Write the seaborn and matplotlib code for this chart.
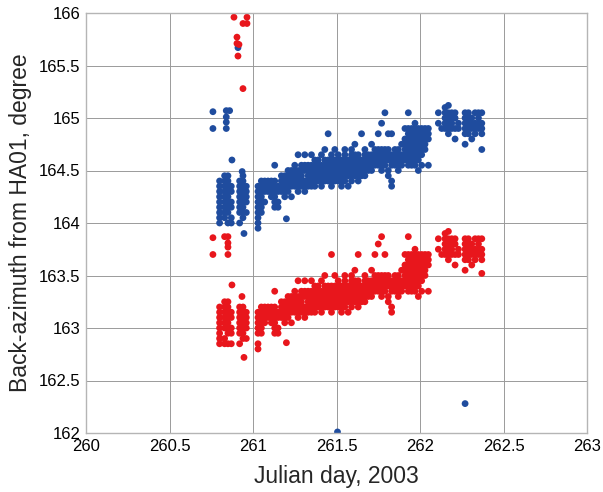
import matplotlib
matplotlib.use("Agg")
import matplotlib.pyplot as plt
import seaborn as sns
import pandas as pd

# ---- data (Julian day, back-azimuth in degrees) ----
blue_cols = [
    (260.76, [165.06, 164.90]),
    (260.84, [165.07, 165.01, 164.96, 164.90]),
    (260.86, [165.07]),
    (260.874, [164.60]),
    (260.91, [165.67]),
    (260.935, [164.49]),
    (260.946, [163.90]),
    (261.506, [162.01]),
    (262.27, [162.28]),
    (260.80, [164.0, 164.05, 164.1, 164.15, 164.2, 164.25, 164.3, 164.35, 164.4]),
    (260.83, [164.05, 164.1, 164.15, 164.2, 164.25, 164.3, 164.35, 164.4, 164.45]),
    (260.85, [164.0, 164.1, 164.15, 164.2, 164.25, 164.3, 164.35, 164.4, 164.45]),
    (260.87, [164.0, 164.05, 164.15, 164.2, 164.3, 164.35]),
    (260.92, [164.0, 164.1, 164.15, 164.2, 164.25, 164.3, 164.35, 164.4]),
    (260.94, [164.05, 164.1, 164.15, 164.2, 164.25, 164.3, 164.35, 164.4, 164.45]),
    (260.96, [164.1, 164.2, 164.25, 164.3, 164.35]),
    (261.03, [163.95, 164.0, 164.05, 164.1, 164.15, 164.2, 164.25, 164.3, 164.35]),
    (261.05, [164.1, 164.15, 164.2, 164.25, 164.3, 164.35, 164.4]),
    (261.07, [164.2, 164.3, 164.35, 164.4]),
    (261.09, [164.3, 164.35, 164.4]),
    (261.11, [164.25, 164.3, 164.35, 164.4]),
    (261.13, [164.15, 164.2, 164.25, 164.3, 164.35, 164.4, 164.55]),
    (261.15, [164.15, 164.2, 164.3, 164.35]),
    (261.20, [164.04]),
    (261.17, [164.30, 164.35, 164.40, 164.45]),
    (261.19, [164.25, 164.30, 164.35, 164.40, 164.45]),
    (261.21, [164.30, 164.35, 164.40, 164.45, 164.50]),
    (261.23, [164.25, 164.35, 164.40, 164.45, 164.50]),
    (261.25, [164.35, 164.40, 164.45, 164.50, 164.55]),
    (261.27, [164.30, 164.35, 164.40, 164.45, 164.50, 164.65]),
    (261.29, [164.35, 164.40, 164.45, 164.50, 164.55]),
    (261.31, [164.30, 164.35, 164.40, 164.50, 164.55, 164.65]),
    (261.33, [164.35, 164.40, 164.45, 164.50, 164.55]),
    (261.35, [164.35, 164.40, 164.45, 164.50, 164.55, 164.65]),
    (261.37, [164.35, 164.40, 164.45, 164.50, 164.55, 164.60]),
    (261.39, [164.40, 164.45, 164.50, 164.55, 164.60]),
    (261.41, [164.35, 164.40, 164.45, 164.50, 164.55, 164.65]),
    (261.43, [164.40, 164.45, 164.50, 164.55, 164.60, 164.70]),
    (261.45, [164.40, 164.45, 164.50, 164.55, 164.60, 164.85]),
    (261.47, [164.35, 164.40, 164.45, 164.50, 164.55, 164.60, 164.65]),
    (261.49, [164.40, 164.45, 164.50, 164.55, 164.60, 164.70]),
    (261.51, [164.40, 164.45, 164.50, 164.55, 164.60, 164.65]),
    (261.53, [164.35, 164.40, 164.45, 164.50, 164.55, 164.60]),
    (261.55, [164.40, 164.45, 164.50, 164.55, 164.60, 164.65, 164.70]),
    (261.57, [164.35, 164.45, 164.50, 164.55, 164.60]),
    (261.59, [164.40, 164.45, 164.50, 164.55, 164.60, 164.65, 164.70]),
    (261.61, [164.45, 164.50, 164.55, 164.60, 164.65, 164.75]),
    (261.63, [164.40, 164.45, 164.50, 164.55, 164.60, 164.65]),
    (261.65, [164.45, 164.50, 164.55, 164.60, 164.85]),
    (261.67, [164.45, 164.50, 164.55, 164.60, 164.65, 164.70]),
    (261.69, [164.50, 164.55, 164.60, 164.65]),
    (261.71, [164.50, 164.55, 164.60, 164.65, 164.75]),
    (261.73, [164.55, 164.60, 164.65, 164.70]),
    (261.75, [164.55, 164.60, 164.65, 164.70, 164.85]),
    (261.77, [164.50, 164.55, 164.60, 164.65, 164.70, 164.95]),
    (261.79, [164.55, 164.60, 164.65, 164.70, 165.05]),
    (261.81, [164.45, 164.50, 164.60, 164.65, 164.70, 164.85]),
    (261.83, [164.35, 164.40, 164.55, 164.60, 164.65, 164.85]),
    (261.85, [164.55, 164.60, 164.65, 164.70]),
    (261.87, [164.50, 164.55, 164.60, 164.65, 164.70]),
    (261.89, [164.55, 164.60, 164.65, 164.75]),
    (261.91, [164.60, 164.65, 164.70, 164.75, 164.80, 164.90]),
    (261.93, [164.55, 164.60, 164.65, 164.70, 164.75, 164.80, 164.85, 164.90, 165.05]),
    (261.95, [164.55, 164.60, 164.65, 164.70, 164.75, 164.80, 164.85, 164.90]),
    (261.97, [164.55, 164.60, 164.65, 164.70, 164.75, 164.80, 164.85, 164.90, 164.95]),
    (261.99, [164.50, 164.60, 164.65, 164.70, 164.75, 164.80, 164.85, 164.90]),
    (262.01, [164.55, 164.65, 164.70, 164.75, 164.80, 164.85, 164.90]),
    (262.03, [164.70, 164.75, 164.80, 164.85, 164.90]),
    (262.05, [164.55, 164.80, 164.85, 164.90]),
    (262.11, [165.05, 164.95]),
    (262.13, [164.90]),
    (262.15, [164.90, 164.95, 165.00, 165.05, 165.10]),
    (262.17, [164.85, 164.90, 164.95, 165.00, 165.05, 165.12]),
    (262.19, [164.90, 164.95, 165.00, 165.05]),
    (262.21, [164.80, 164.90, 165.00, 165.05]),
    (262.23, [164.90, 164.95]),
    (262.27, [164.75, 164.85, 164.90, 164.95, 165.00, 165.05]),
    (262.29, [164.85, 164.90, 164.95, 165.00, 165.05]),
    (262.31, [164.80, 164.90, 164.95, 165.00]),
    (262.33, [164.85, 164.90, 164.95, 165.05]),
    (262.35, [164.90, 164.95, 165.00, 165.05]),
    (262.37, [164.70, 164.85, 164.90, 164.95, 165.05]),
]

red_cols = [
    (260.886, [165.96]),
    (260.964, [165.96, 165.90]),
    (260.94, [165.90, 165.28]),
    (260.904, [165.77, 165.71]),
    (260.916, [165.70]),
    (260.91, [165.59]),
    (260.76, [163.86, 163.70]),
    (260.83, [163.87]),
    (260.85, [163.87, 163.81, 163.77, 163.70]),
    (260.874, [163.41]),
    (260.934, [163.30]),
    (260.946, [162.72]),
    (260.80, [162.85, 162.90, 162.95, 163.00, 163.05, 163.10, 163.15, 163.20]),
    (260.83, [162.85, 162.90, 163.00, 163.05, 163.10, 163.15, 163.20, 163.25]),
    (260.85, [162.85, 162.95, 163.00, 163.05, 163.10, 163.15, 163.20, 163.25]),
    (260.87, [162.85, 162.95, 163.00, 163.10, 163.15]),
    (260.92, [162.85, 162.95, 163.00, 163.05, 163.10, 163.15, 163.20]),
    (260.94, [162.90, 162.95, 163.00, 163.05, 163.10, 163.15, 163.20]),
    (260.96, [162.90, 163.00, 163.05, 163.10, 163.15]),
    (261.03, [162.80, 162.85, 162.95, 163.00, 163.05, 163.10, 163.15]),
    (261.05, [162.95, 163.00, 163.05, 163.10, 163.15, 163.20]),
    (261.07, [163.05, 163.10, 163.15, 163.20]),
    (261.09, [163.10, 163.15, 163.20]),
    (261.11, [163.05, 163.10, 163.15, 163.20]),
    (261.13, [162.95, 163.00, 163.05, 163.10, 163.15, 163.20, 163.35]),
    (261.15, [162.95, 163.00, 163.10, 163.15]),
    (261.20, [162.86]),
    (261.17, [163.10, 163.15, 163.20, 163.25]),
    (261.19, [163.05, 163.10, 163.15, 163.20, 163.25]),
    (261.21, [163.10, 163.15, 163.20, 163.25, 163.30]),
    (261.23, [163.05, 163.15, 163.20, 163.25, 163.30]),
    (261.25, [163.15, 163.20, 163.25, 163.30, 163.35]),
    (261.27, [163.10, 163.15, 163.20, 163.25, 163.30, 163.45]),
    (261.29, [163.15, 163.20, 163.25, 163.30, 163.35]),
    (261.31, [163.10, 163.15, 163.20, 163.30, 163.35, 163.45]),
    (261.33, [163.15, 163.20, 163.25, 163.30, 163.35]),
    (261.35, [163.15, 163.20, 163.25, 163.30, 163.35, 163.45]),
    (261.37, [163.15, 163.20, 163.25, 163.30, 163.35, 163.40]),
    (261.39, [163.20, 163.25, 163.30, 163.35, 163.40]),
    (261.41, [163.15, 163.20, 163.25, 163.30, 163.35, 163.45]),
    (261.43, [163.20, 163.25, 163.30, 163.35, 163.40, 163.50]),
    (261.45, [163.20, 163.25, 163.30, 163.35, 163.40]),
    (261.47, [163.15, 163.20, 163.25, 163.30, 163.35, 163.40, 163.70]),
    (261.49, [163.20, 163.25, 163.30, 163.35, 163.40, 163.50]),
    (261.51, [163.20, 163.25, 163.30, 163.35, 163.40, 163.45]),
    (261.53, [163.15, 163.20, 163.25, 163.30, 163.35, 163.40]),
    (261.55, [163.20, 163.25, 163.30, 163.35, 163.40, 163.45, 163.50]),
    (261.57, [163.15, 163.25, 163.30, 163.35, 163.40]),
    (261.59, [163.20, 163.25, 163.30, 163.35, 163.40, 163.45, 163.50]),
    (261.61, [163.25, 163.30, 163.35, 163.40, 163.45, 163.55]),
    (261.63, [163.20, 163.25, 163.30, 163.35, 163.40, 163.45, 163.70]),
    (261.65, [163.25, 163.30, 163.35, 163.40]),
    (261.67, [163.25, 163.30, 163.35, 163.40, 163.45, 163.50]),
    (261.69, [163.30, 163.35, 163.40, 163.45]),
    (261.71, [163.30, 163.35, 163.40, 163.45, 163.55]),
    (261.73, [163.35, 163.40, 163.45, 163.50, 163.70]),
    (261.75, [163.35, 163.40, 163.45, 163.50, 163.80]),
    (261.77, [163.30, 163.35, 163.40, 163.45, 163.50, 163.87]),
    (261.79, [163.35, 163.40, 163.45, 163.50, 163.70]),
    (261.81, [163.25, 163.30, 163.40, 163.45, 163.50]),
    (261.83, [163.15, 163.20, 163.35, 163.40, 163.45]),
    (261.85, [163.35, 163.40, 163.45, 163.50]),
    (261.87, [163.30, 163.35, 163.40, 163.45, 163.50]),
    (261.89, [163.35, 163.40, 163.45, 163.55]),
    (261.91, [163.40, 163.45, 163.50, 163.55, 163.60, 163.70]),
    (261.93, [163.35, 163.40, 163.45, 163.50, 163.55, 163.60, 163.65, 163.70, 163.87]),
    (261.95, [163.35, 163.40, 163.45, 163.50, 163.55, 163.60, 163.65, 163.70]),
    (261.97, [163.35, 163.40, 163.45, 163.50, 163.55, 163.60, 163.65, 163.70, 163.75]),
    (261.99, [163.30, 163.40, 163.45, 163.50, 163.55, 163.60, 163.65, 163.70]),
    (262.01, [163.35, 163.45, 163.50, 163.55, 163.60, 163.65, 163.70]),
    (262.03, [163.50, 163.55, 163.60, 163.65, 163.70]),
    (262.05, [163.35, 163.60, 163.65, 163.70]),
    (262.11, [163.85, 163.75]),
    (262.13, [163.70]),
    (262.15, [163.70, 163.75, 163.80, 163.85, 163.90]),
    (262.17, [163.65, 163.70, 163.75, 163.80, 163.85, 163.92]),
    (262.19, [163.70, 163.75, 163.80, 163.85]),
    (262.21, [163.60, 163.70, 163.80, 163.85]),
    (262.23, [163.70, 163.75]),
    (262.27, [163.55, 163.65, 163.70, 163.75, 163.80, 163.85]),
    (262.29, [163.65, 163.70, 163.75, 163.80, 163.85]),
    (262.31, [163.60, 163.70, 163.75, 163.80]),
    (262.33, [163.65, 163.70, 163.75, 163.85]),
    (262.35, [163.70, 163.75, 163.80, 163.85]),
    (262.37, [163.52, 163.65, 163.70, 163.75, 163.85]),
]

x_ticks = [260, 260.5, 261, 261.5, 262, 262.5, 263]
x_tick_labels = ["260", "260.5", "261", "261.5", "262", "262.5", "263"]
y_ticks = [162, 162.5, 163, 163.5, 164, 164.5, 165, 165.5, 166]
y_tick_labels = ["162", "162.5", "163", "163.5", "164", "164.5", "165", "165.5", "166"]


def expand(cols, name):
    rows = []
    for x, ys in cols:
        for y in ys:
            rows.append({"day": x, "az": y, "series": name})
    return rows


df = pd.DataFrame(expand(blue_cols, "blue") + expand(red_cols, "red"))

sns.set_theme(style="whitegrid")
plt.rcParams["font.family"] = ["Liberation Sans", "DejaVu Sans"]

fig = plt.figure(figsize=(6.03, 4.92), dpi=100)
ax = fig.add_axes([86 / 603, 1 - 433 / 492, 501 / 603, 420 / 492])

sns.scatterplot(
    data=df, x="day", y="az", hue="series",
    palette={"blue": "#1f4c9e", "red": "#e8161c"},
    s=24, linewidth=0, edgecolor="none", legend=False, ax=ax, clip_on=True,
)

ax.set_xlim(260, 263)
ax.set_ylim(162, 166)
ax.set_xticks(x_ticks)
ax.set_xticklabels(x_tick_labels)
ax.set_yticks(y_ticks)
ax.set_yticklabels(y_tick_labels)
ax.tick_params(axis="both", length=0, labelsize=12, colors="black", pad=4)
ax.grid(True, color="#9a9a9a", linewidth=0.7)
for sp in ax.spines.values():
    sp.set_color("#b5b5b5")
    sp.set_linewidth(1.0)
ax.set_xlabel("Julian day, 2003", fontsize=16.5, labelpad=8)
ax.set_ylabel("Back-azimuth from HA01, degree", fontsize=16.5, labelpad=5)

fig.savefig("out.png", dpi=100)
